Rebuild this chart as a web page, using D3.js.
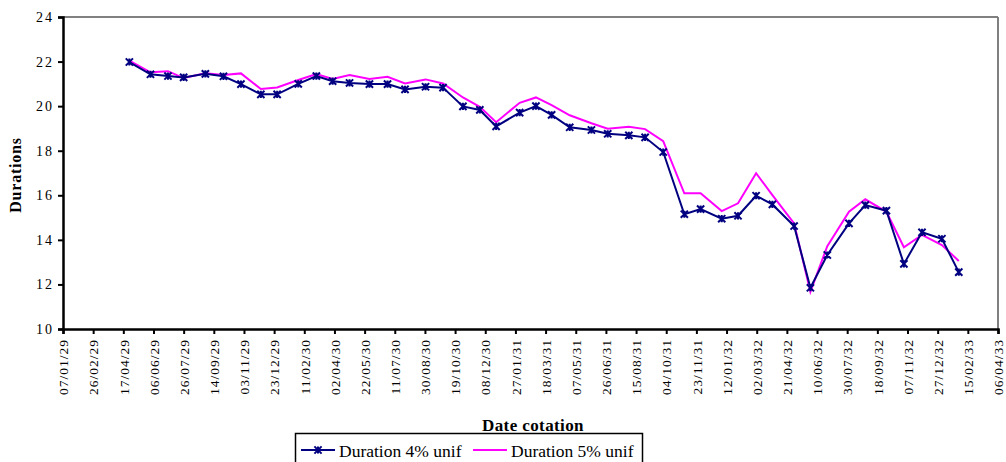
<!DOCTYPE html>
<html>
<head>
<meta charset="utf-8">
<script src="https://cdn.jsdelivr.net/npm/d3@7"></script>
<style>
  html, body { margin: 0; padding: 0; background: #fff; }
  svg { display: block; }
  text { font-family: "Liberation Serif", "Times New Roman", serif; fill: #000; }
</style>
</head>
<body>
<svg id="chart" width="1006" height="462"></svg>
<script>
// Quotation dates (monthly) and the two duration series
const quoteDates = [
  "1929-04-27","1929-06-01","1929-06-30","1929-07-26","1929-08-31","1929-09-30",
  "1929-10-29","1929-12-01","1929-12-28","1930-02-01","1930-03-03","1930-03-30",
  "1930-04-27","1930-05-30","1930-06-29","1930-07-28","1930-08-31","1930-09-29",
  "1930-11-01","1930-11-29","1930-12-26","1931-02-03","1931-03-02","1931-03-28",
  "1931-04-27","1931-06-02","1931-06-29","1931-08-03","1931-08-30","1931-09-29",
  "1931-11-03","1931-11-30","1932-01-04","1932-01-31","1932-03-01","1932-03-28",
  "1932-05-03","1932-05-30","1932-06-27","1932-08-02","1932-08-29","1932-10-03",
  "1932-11-01","1932-12-01","1933-01-03","1933-01-31"
];
const duration4 = [
  21.98,21.43,21.35,21.29,21.45,21.34,20.99,20.53,20.53,21.00,21.35,21.12,
  21.04,20.99,20.99,20.75,20.87,20.83,19.99,19.83,19.09,19.71,20.00,19.61,
  19.05,18.93,18.76,18.69,18.60,17.94,15.15,15.38,14.95,15.08,15.98,15.59,
  14.62,11.85,13.32,14.74,15.56,15.31,12.92,14.34,14.05,12.55
];
const duration5 = [
  22.04,21.52,21.57,21.26,21.47,21.40,21.47,20.77,20.84,21.17,21.44,21.22,
  21.40,21.22,21.32,21.02,21.20,21.02,20.39,19.97,19.28,20.15,20.39,20.05,
  19.59,19.23,18.99,19.08,18.97,18.43,16.09,16.09,15.29,15.64,16.99,16.01,
  14.74,11.67,13.72,15.26,15.82,15.26,13.67,14.22,13.77,13.05
];
const yTickValues = [10, 12, 14, 16, 18, 20, 22, 24];
const xTickDates = [
  "1929-01-07","1929-02-26","1929-04-17","1929-06-06","1929-07-26","1929-09-14",
  "1929-11-03","1929-12-23","1930-02-11","1930-04-02","1930-05-22","1930-07-11",
  "1930-08-30","1930-10-19","1930-12-08","1931-01-27","1931-03-18","1931-05-07",
  "1931-06-26","1931-08-15","1931-10-04","1931-11-23","1932-01-12","1932-03-02",
  "1932-04-21","1932-06-10","1932-07-30","1932-09-18","1932-11-07","1932-12-27",
  "1933-02-15","1933-04-06"
];
const seriesNames = ["Duration 4% unif", "Duration 5% unif"];

const parse = d3.utcParse("%Y-%m-%d");
const fmt = d3.utcFormat("%d/%m/%y");

const dates = quoteDates.map(parse);
const ticks = xTickDates.map(parse);

const margin = { left: 63, top: 17, right: 998, bottom: 329 };
const svg = d3.select("#chart");

const x = d3.scaleUtc()
  .domain([ticks[0], ticks[ticks.length - 1]])
  .range([margin.left, margin.right]);
const y = d3.scaleLinear()
  .domain([10, 24])
  .range([margin.bottom, margin.top]);

// Plot frame: grey on top and right
svg.append("line")
  .attr("x1", margin.left).attr("x2", margin.right)
  .attr("y1", margin.top).attr("y2", margin.top)
  .attr("stroke", "#808080").attr("stroke-width", 2);
svg.append("line")
  .attr("x1", margin.right).attr("x2", margin.right)
  .attr("y1", margin.top).attr("y2", margin.bottom)
  .attr("stroke", "#808080").attr("stroke-width", 2);

// Y axis
const yAxis = svg.append("g")
  .attr("transform", `translate(${margin.left},0)`)
  .call(d3.axisLeft(y).tickValues(yTickValues).tickSize(5).tickPadding(4).tickFormat(d3.format("d")));
yAxis.attr("font-family", null);
yAxis.select(".domain").attr("stroke", "#000").attr("stroke-width", 2.5);
yAxis.selectAll(".tick line").attr("stroke", "#000").attr("stroke-width", 2);
yAxis.selectAll(".tick text")
  .attr("font-size", 14)
  .attr("letter-spacing", "2px");

// X axis
const xAxis = svg.append("g")
  .attr("transform", `translate(0,${margin.bottom})`)
  .call(d3.axisBottom(x).tickValues(ticks).tickSize(5).tickFormat(fmt));
xAxis.attr("font-family", null);
xAxis.select(".domain").attr("stroke", "#000").attr("stroke-width", 2.5);
xAxis.selectAll(".tick line").attr("stroke", "#000").attr("stroke-width", 2);
xAxis.selectAll(".tick text")
  .attr("font-size", 13.5)
  .attr("letter-spacing", "1px")
  .attr("text-anchor", "end")
  .attr("dy", "0.35em")
  .attr("transform", "translate(0,10) rotate(-90)")
  .attr("x", 0).attr("y", 0);

// Axis titles
svg.append("text")
  .attr("x", 533).attr("y", 431)
  .attr("text-anchor", "middle")
  .attr("font-size", 17).attr("font-weight", "bold")
  .attr("letter-spacing", "0.4px")
  .text("Date cotation");
svg.append("text")
  .attr("transform", "translate(21,175) rotate(-90)")
  .attr("text-anchor", "middle")
  .attr("font-size", 16).attr("font-weight", "bold")
  .attr("letter-spacing", "0.8px")
  .text("Durations");

// Lines
const line = vals => d3.line()
  .x((d, i) => x(dates[i]))
  .y(d => y(d))(vals);

svg.append("path")
  .attr("d", line(duration5))
  .attr("fill", "none").attr("stroke", "#ff00ff").attr("stroke-width", 2);
svg.append("path")
  .attr("d", line(duration4))
  .attr("fill", "none").attr("stroke", "#000080").attr("stroke-width", 2);

// Star (asterisk) markers on the 4% series
function star(cx, cy, r) {
  return `M${cx - r},${cy - r}L${cx + r},${cy + r}M${cx - r},${cy + r}L${cx + r},${cy - r}` +
         `M${cx},${cy - r}L${cx},${cy + r}`;
}
svg.append("g").selectAll("path")
  .data(duration4)
  .join("path")
  .attr("d", (d, i) => star(x(dates[i]), y(d), 3.6))
  .attr("stroke", "#000080").attr("stroke-width", 2).attr("fill", "none");

// Legend
const lg = svg.append("g");
lg.append("rect")
  .attr("x", 295.5).attr("y", 433.5).attr("width", 347).attr("height", 40)
  .attr("fill", "#fff").attr("stroke", "#000").attr("stroke-width", 1.5);
lg.append("line").attr("x1", 301).attr("x2", 335).attr("y1", 450).attr("y2", 450)
  .attr("stroke", "#000080").attr("stroke-width", 2);
lg.append("path").attr("d", star(318, 450, 3.6))
  .attr("stroke", "#000080").attr("stroke-width", 2).attr("fill", "none");
lg.append("text").attr("x", 339).attr("y", 457).attr("font-size", 17.5).text(seriesNames[0]);
lg.append("line").attr("x1", 473).attr("x2", 507).attr("y1", 450).attr("y2", 450)
  .attr("stroke", "#ff00ff").attr("stroke-width", 2);
lg.append("text").attr("x", 511).attr("y", 457).attr("font-size", 17.5).text(seriesNames[1]);
</script>
</body>
</html>
